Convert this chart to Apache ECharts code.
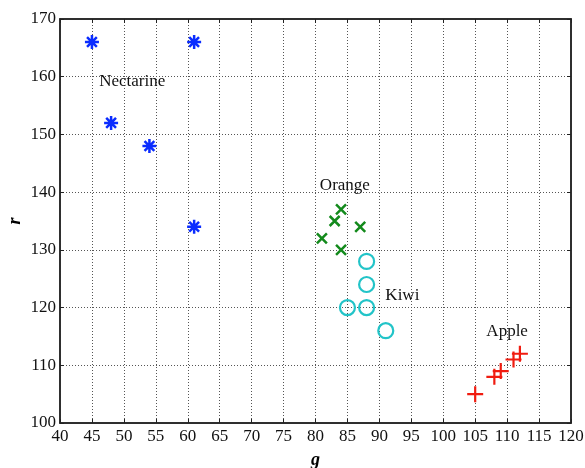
<!DOCTYPE html>
<html>
<head>
<meta charset="utf-8">
<script src="https://cdn.jsdelivr.net/npm/echarts@6/dist/echarts.min.js"></script>
<style>
  html, body { margin: 0; padding: 0; background: #fff; }
  #chart { width: 585px; height: 468px; }
</style>
</head>
<body>
<div id="chart"></div>
<script>
// fruit samples: [g, r]
var nectarine = [[45, 166], [48, 152], [54, 148], [61, 166], [61, 134]];
var orange = [[84, 137], [83, 135], [87, 134], [81, 132], [84, 130]];
var kiwi = [[88, 128], [88, 124], [85, 120], [88, 120], [91, 116]];
var apple = [[105, 105], [108, 108], [109, 109], [111, 111], [112, 112]];

// cluster names, placed near each group
var groupNames = ['Nectarine', 'Orange', 'Kiwi', 'Apple'];
var namePos = [[51.3, 159.1], [84.6, 141.2], [93.6, 122], [110, 115.8]];

var xTicks = { min: 40, max: 120, step: 5 };
var yTicks = { min: 100, max: 170, step: 10 };

var serif = '"Liberation Serif", "DejaVu Serif", serif';

var starPath = 'path://M0,-1L0,1M-1,0L1,0M-0.7,-0.7L0.7,0.7M-0.7,0.7L0.7,-0.7';
var crossPath = 'path://M-1,-1L1,1M-1,1L1,-1';
var plusPath = 'path://M0,-1L0,1M-1,0L1,0';

function markerSeries(name, data, symbol, size, color, lw) {
  return {
    name: name,
    type: 'scatter',
    data: data,
    symbol: symbol,
    symbolSize: size,
    itemStyle: { color: 'rgba(0,0,0,0)', borderColor: color, borderWidth: lw, opacity: 1 },
    emphasis: { disabled: true }
  };
}

var gridLine = { show: true, lineStyle: { color: '#555', type: [1, 2], width: 1 } };
var nameFont = { fontFamily: serif, fontSize: 18, fontWeight: 'bold', fontStyle: 'italic', color: '#000' };

var chart = echarts.init(document.getElementById('chart'));

var option = {
  animation: false,
  grid: {
    left: 60, top: 19, width: 511, height: 404,
    outerBoundsMode: 'none', containLabel: false,
    show: true, borderColor: '#222', borderWidth: 1.5, backgroundColor: '#fff'
  },
  // y axis title, placed by hand (axis name gets pushed to the edge)
  graphic: [{
    type: 'text', x: 15, y: 221, rotation: Math.PI / 2,
    style: { text: 'r', font: 'italic bold 18px ' + serif, fill: '#000', align: 'center', verticalAlign: 'middle' }
  }],
  xAxis: [{
    type: 'value', min: xTicks.min, max: xTicks.max, interval: xTicks.step,
    name: 'g', nameLocation: 'middle', nameGap: 28,
    nameTextStyle: nameFont,
    axisLine: { show: true, lineStyle: { color: '#222', width: 1.5 } },
    axisTick: { show: true, inside: true, length: 4, lineStyle: { color: '#222' } },
    axisLabel: { fontFamily: serif, fontSize: 17, color: '#111', margin: 5 },
    splitLine: gridLine
  }, {
    type: 'value', position: 'top', min: xTicks.min, max: xTicks.max, interval: xTicks.step,
    axisLine: { show: true, lineStyle: { color: '#222', width: 1.5 } },
    axisTick: { show: true, inside: true, length: 4, lineStyle: { color: '#222' } },
    axisLabel: { show: false }, splitLine: { show: false }
  }],
  yAxis: [{
    type: 'value', min: yTicks.min, max: yTicks.max, interval: yTicks.step,
    axisLine: { show: true, lineStyle: { color: '#222', width: 1.5 } },
    axisTick: { show: true, inside: true, length: 4, lineStyle: { color: '#222' } },
    axisLabel: { fontFamily: serif, fontSize: 17, color: '#111', margin: 4 },
    splitLine: gridLine
  }, {
    type: 'value', position: 'right', min: yTicks.min, max: yTicks.max, interval: yTicks.step,
    axisLine: { show: true, lineStyle: { color: '#222', width: 1.5 } },
    axisTick: { show: true, inside: true, length: 4, lineStyle: { color: '#222' } },
    axisLabel: { show: false }, splitLine: { show: false }
  }],
  series: [
    markerSeries('Nectarine', nectarine, starPath, 14, '#0a2cff', 2.5),
    markerSeries('Orange', orange, crossPath, 10, '#138a1c', 2.5),
    markerSeries('Kiwi', kiwi, 'circle', 15, '#22c4c8', 2.2),
    markerSeries('Apple', apple, plusPath, 16, '#f01c10', 2.2),
    {
      type: 'scatter',
      symbolSize: 0,
      silent: true,
      itemStyle: { opacity: 1 },
      data: namePos.map(function (p, i) { return { value: p, name: groupNames[i] }; }),
      label: {
        show: true, position: 'inside', formatter: '{b}',
        fontFamily: serif, fontSize: 17, color: '#111'
      }
    }
  ]
};

chart.setOption(option);
</script>
</body>
</html>
